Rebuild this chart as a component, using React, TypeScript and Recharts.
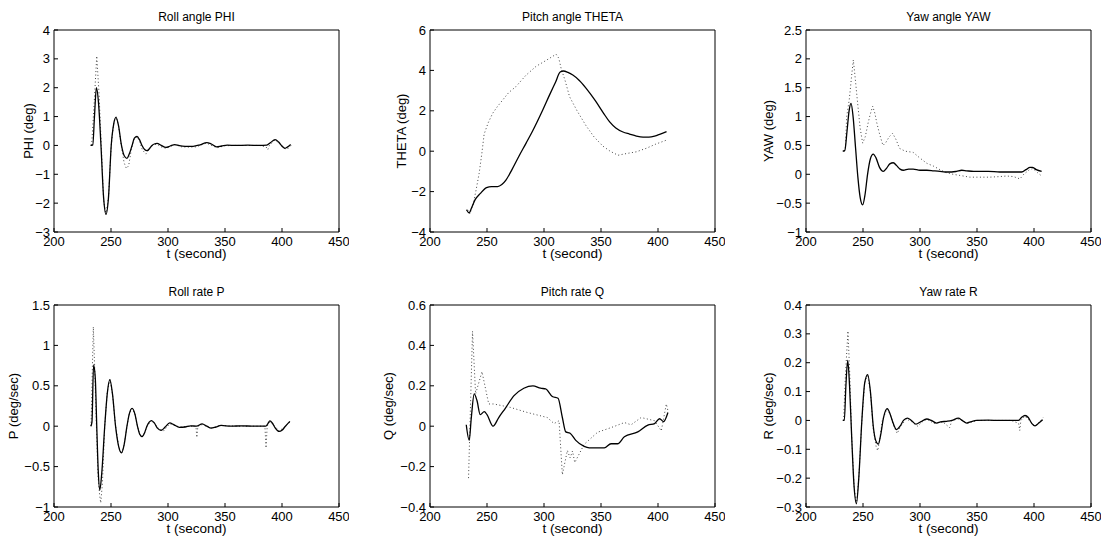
import { LineChart, Line, XAxis, YAxis } from 'recharts';

type Pt = [number, number];

const X_TICKS = [200, 250, 300, 350, 400, 450];

const PHI_TICKS = [-3, -2, -1, 0, 1, 2, 3, 4];
const THETA_TICKS = [-4, -2, 0, 2, 4, 6];
const YAW_TICKS = [-1, -0.5, 0, 0.5, 1, 1.5, 2, 2.5];
const P_TICKS = [-1, -0.5, 0, 0.5, 1, 1.5];
const Q_TICKS = [-0.4, -0.2, 0, 0.2, 0.4, 0.6];
const R_TICKS = [-0.3, -0.2, -0.1, 0, 0.1, 0.2, 0.3, 0.4];

const PHI_SOLID: Pt[] = [
  [232, 0], [234, 0.02], [235.5, 1.0], [237.2, 2.0], [239, 1.5], [241.2, 0], [243.5, -1.8], [245.6, -2.38],
  [247.8, -1.8], [250.2, 0], [252.4, 0.75], [254.4, 0.97], [256.5, 0.7], [259.2, 0], [261.5, -0.35], [264, -0.45],
  [266, -0.3], [268.5, 0], [270.5, 0.25], [272.8, 0.31], [275, 0.2], [277.2, 0], [279.5, -0.14], [281.6, -0.18],
  [284, -0.1], [286, 0], [288, 0.05], [290.4, 0.07], [294, 0], [298.2, -0.07], [302, -0.02], [305.9, 0.03],
  [310, -0.01], [315, -0.03], [322, -0.03], [328, 0.02], [334, 0.1], [338, 0.05], [342.6, -0.05], [347, -0.02],
  [352, 0.01], [360, 0], [370, 0.01], [380, 0], [386.6, 0.01], [390, 0.1], [393.9, 0.2], [397, 0.12],
  [400, -0.02], [402.6, -0.1], [405, -0.05], [407.6, 0.03],
];
const PHI_DOT: Pt[] = [
  [233, 0], [235, 1.3], [237.5, 3.1], [239.5, 1.8], [241.5, 0], [243.5, -1.9], [245.6, -2.4], [247.8, -1.8],
  [250.2, 0], [252.5, 0.8], [254.5, 1.0], [256.5, 0.7], [259, 0], [261.5, -0.6], [263.5, -0.8], [265.5, -0.7],
  [268, -0.1], [270.5, 0.25], [272.8, 0.3], [275, 0.15], [277.5, -0.15], [280.5, -0.3], [283, -0.15], [286, 0],
  [290, 0.05], [294, -0.05], [298, -0.1], [301, -0.05], [306, 0.03], [312, -0.05], [318, -0.06], [325, -0.05],
  [329, 0.02], [334, 0.08], [338, 0], [343, -0.08], [350, -0.01], [360, 0], [370, 0], [380, 0], [386, -0.05],
  [387.5, -0.15], [389, 0], [393.5, 0.18], [397, 0.1], [400, -0.05], [403, -0.12], [405.5, -0.1], [408, 0],
];

const THETA_SOLID: Pt[] = [
  [232, -2.9], [234.3, -3.05], [236.5, -2.8], [239.6, -2.4], [244, -2.1], [249.6, -1.8], [254, -1.75],
  [259.3, -1.75], [263, -1.65], [266.6, -1.43], [272, -0.9], [278, -0.25], [284.2, 0.39], [290, 1.0],
  [298.9, 2.04], [305, 2.8], [310, 3.4], [314.2, 3.92], [317, 3.97], [321, 3.9], [325.3, 3.77], [331, 3.5],
  [337, 3.11], [345, 2.5], [352, 1.9], [357.6, 1.45], [363, 1.15], [369.3, 0.95], [375, 0.85], [381, 0.75],
  [386.9, 0.7], [392, 0.7], [397, 0.75], [402, 0.85], [407.5, 0.97],
];
const THETA_DOT: Pt[] = [
  [233, -2.9], [235, -3.1], [238, -2.6], [240.5, -1.9], [243.1, -1.1], [245.5, -0.1], [247.5, 0.85], [251, 1.4],
  [254.9, 1.87], [259, 2.2], [263.7, 2.53], [269, 2.9], [275.4, 3.2], [284, 3.75], [293, 4.2], [302, 4.5],
  [310.6, 4.8], [313, 4.6], [315, 4.1], [318.5, 3.5], [322.4, 2.7], [329, 2.0], [337, 1.25], [344, 0.7],
  [351.7, 0.25], [358, 0], [364.9, -0.2], [372, -0.12], [381, -0.03], [390, 0.15], [398, 0.35], [407.5, 0.55],
];

const YAW_SOLID: Pt[] = [
  [232.2, 0.4], [234, 0.41], [236, 0.75], [237.8, 1.1], [239.5, 1.23], [241.3, 1.0], [243.5, 0.45], [245.5, -0.05],
  [247.5, -0.4], [249.7, -0.53], [251.8, -0.35], [254, 0], [256.5, 0.27], [259, 0.35], [261.5, 0.28],
  [264.5, 0.12], [267.8, 0.05], [270.5, 0.1], [273.5, 0.18], [276.6, 0.2], [279.5, 0.15], [282.5, 0.09],
  [285.4, 0.07], [290, 0.09], [294, 0.09], [300, 0.07], [306, 0.07], [312, 0.06], [317.5, 0.05], [322, 0.04],
  [327.8, 0.04], [332, 0.05], [336.6, 0.07], [341, 0.06], [347, 0.05], [360, 0.05], [370, 0.04], [380, 0.04],
  [389.2, 0.04], [393, 0.08], [396.5, 0.12], [398.5, 0.12], [402, 0.08], [406.7, 0.05],
];
const YAW_DOT: Pt[] = [
  [233, 0.4], [234.5, 0.45], [235.7, 1.0], [238, 1.3], [240, 1.7], [241.5, 1.98], [243, 1.7], [245, 1.29],
  [247.5, 0.8], [249.7, 0.54], [252, 0.65], [254.6, 0.9], [256.5, 1.05], [258.5, 1.18], [260.5, 1.05],
  [262, 0.9], [264.5, 0.7], [267.5, 0.5], [270, 0.55], [273, 0.65], [276, 0.71], [279, 0.6], [282, 0.45],
  [287, 0.4], [294, 0.38], [300, 0.28], [306, 0.19], [312, 0.14], [317.5, 0.08], [323, 0.03], [329, 0],
  [335, -0.02], [343.6, -0.05], [352, -0.05], [361, -0.05], [370, -0.04], [376, -0.03], [382, -0.04],
  [387.7, -0.08], [391, 0], [396, 0.08], [399, 0.1], [403, 0.03], [406.7, -0.03],
];

const P_SOLID: Pt[] = [
  [232.3, 0], [233.3, 0.05], [234.7, 0.76], [236.2, 0.6], [237.5, 0], [238.8, -0.55], [240.2, -0.79],
  [241.8, -0.6], [244.5, 0], [246.7, 0.4], [249, 0.575], [251.3, 0.4], [254, 0], [256.7, -0.25], [259.2, -0.33],
  [261.5, -0.23], [264, 0], [266, 0.15], [268.5, 0.22], [271, 0.15], [273.2, 0], [275.2, -0.1], [277.3, -0.13],
  [279.5, -0.08], [281.5, 0], [283.5, 0.05], [285.5, 0.07], [288, 0.04], [290.5, -0.02], [294.2, -0.05],
  [297.5, -0.01], [301.5, 0.04], [305, 0.02], [310, -0.015], [315, -0.01], [320, 0.005], [325, 0], [330, 0.03],
  [334, 0], [337.9, -0.025], [342, -0.01], [346.6, 0.01], [355, 0], [365, 0.005], [375, 0], [385.9, 0],
  [387.5, 0.03], [389.4, 0.065], [391.5, 0.04], [394, -0.02], [397.6, -0.065], [400, -0.05], [403, 0],
  [406.9, 0.06],
];
const P_DOT: Pt[] = [
  [232.5, 0], [233.3, 0.5], [234.5, 1.23], [235.5, 0.8], [237, 0.1], [238.5, -0.6], [240, -0.85], [241, -0.95],
  [242.5, -0.7], [244.5, 0], [246.7, 0.42], [249, 0.58], [251.3, 0.4], [254, 0], [256.7, -0.25], [259.2, -0.34],
  [261.5, -0.23], [264, 0], [266, 0.15], [268.5, 0.22], [271, 0.15], [273.2, 0], [275.2, -0.1], [277.3, -0.13],
  [279.5, -0.08], [281.5, 0], [285.5, 0.07], [290, 0], [294, -0.06], [296, -0.06], [301.5, 0.03], [310, -0.01],
  [320, 0], [324.5, 0], [325.3, -0.14], [326.2, 0], [330, 0.02], [338, -0.02], [346, 0.01], [360, 0], [375, 0],
  [385, 0], [386, -0.27], [387, 0], [389.4, 0.06], [397.6, -0.06], [403, 0], [407, 0.05],
];

const Q_SOLID: Pt[] = [
  [231.8, 0.007], [234.4, -0.07], [236.2, 0.04], [238.8, 0.16], [241.2, 0.127], [244.1, 0.057], [247.6, 0.072],
  [250, 0.057], [255.3, 0], [260.3, 0.043], [266.2, 0.09], [273.5, 0.15], [282.3, 0.188], [290.3, 0.2],
  [297, 0.188], [301.4, 0.185], [307.3, 0.147], [312.3, 0.138], [316.1, 0.043], [319.1, -0.028],
  [322.9, -0.035], [327.9, -0.07], [335.2, -0.1], [339.7, -0.107], [352.9, -0.107], [358.8, -0.087],
  [364.6, -0.087], [370.5, -0.052], [382.3, -0.028], [391.1, 0.005], [397, 0.013], [401.4, 0.037],
  [404.9, 0.023], [408.7, 0.068],
];
const Q_DOT: Pt[] = [
  [233.8, -0.257], [237.3, 0.47], [240, 0.16], [245.6, 0.27], [251.5, 0.11], [255.9, 0.11], [270.6, 0.093],
  [285.3, 0.068], [302.9, 0.043], [308.8, 0.013], [313.2, 0.027], [316.1, -0.24], [320.5, -0.12],
  [322.9, -0.157], [325, -0.123], [327, -0.18], [335.2, -0.09], [347, -0.03], [358.8, -0.007], [370.5, 0.018],
  [376.4, 0.007], [385.2, 0.043], [397, 0.027], [402.9, -0.023], [407.3, 0.11], [408.7, 0.077],
];

const R_SOLID: Pt[] = [
  [232.2, 0], [233.6, 0], [235, 0.12], [236.6, 0.208], [238.2, 0.12], [240, -0.05], [242.2, -0.23],
  [244.2, -0.288], [246.3, -0.2], [249, 0], [251.5, 0.13], [254.1, 0.159], [256.5, 0.1], [259, -0.02],
  [261.2, -0.07], [263.5, -0.082], [265.5, -0.05], [268, 0.01], [271.3, 0.041], [274, 0.02], [276.5, -0.01],
  [279.5, -0.032], [282.5, -0.02], [285.5, 0], [288.9, 0.008], [292.5, 0], [296.5, -0.013], [300.5, -0.005],
  [305.9, 0.005], [310, 0], [314.6, -0.009], [318, -0.005], [323.4, -0.003], [328, 0], [333.6, 0.008],
  [337, 0], [341, -0.009], [345, -0.004], [349.7, 0], [360, 0.001], [370, 0], [380, 0], [386.3, 0],
  [389, 0.01], [392.1, 0.017], [395, 0.01], [398, -0.01], [400.9, -0.019], [404, -0.01], [407.6, 0.002],
];
const R_DOT: Pt[] = [
  [233, 0], [234.5, 0.15], [236.8, 0.31], [238.5, 0.15], [240, -0.05], [242.2, -0.23], [244.2, -0.29],
  [246.3, -0.2], [249, 0], [251.5, 0.13], [254, 0.16], [256.5, 0.1], [259, -0.03], [261.5, -0.09],
  [262.9, -0.105], [264.5, -0.07], [267, 0], [271, 0.04], [274, 0.02], [277, -0.02], [280, -0.045],
  [283, -0.02], [288, 0.005], [293, -0.005], [298, -0.02], [302, -0.005], [306, 0.005], [312, -0.01],
  [320, -0.005], [326, -0.025], [328, 0], [334, 0.005], [342, -0.01], [350, 0], [365, 0], [380, 0],
  [386.5, -0.01], [387.5, -0.035], [388.5, 0], [392, 0.015], [401, -0.02], [406, 0], [408, 0.01],
];

const FONT = '"Liberation Sans", Arial, Helvetica, sans-serif';
const PLOT_W = 285;
const PLOT_H = 202;
const ML = 60;
const MT = 30;
const MR = 10;
const MB = 35;

const fmt = (v: number) => (v < 0 ? '\u2212' + String(Math.abs(v)) : String(v));
const toRows = (pts: Pt[]) => pts.map(([t, v]) => ({ t, v }));

interface PanelProps {
  left: number;
  top: number;
  title: string;
  yLabel: string;
  yLabelX: number;
  yTicks: number[];
  solid: Pt[];
  dotted: Pt[];
}

function Panel({ left, top, title, yLabel, yLabelX, yTicks, solid, dotted }: PanelProps) {
  const domain: [number, number] = [yTicks[0], yTicks[yTicks.length - 1]];
  const tickStyle = { fill: '#000', fontSize: 13, fontFamily: FONT };
  const text = { position: 'absolute' as const, fontFamily: FONT, color: '#000', whiteSpace: 'nowrap' as const, lineHeight: 1 };

  return (
    <>
      <div style={{ ...text, left, top: top - 13, width: PLOT_W, textAlign: 'center', fontSize: 12, transform: 'translateY(-50%)' }}>
        {title}
      </div>
      <div style={{ ...text, left, top: top + PLOT_H + 22, width: PLOT_W, textAlign: 'center', fontSize: 13.5, transform: 'translateY(-50%)' }}>
        t (second)
      </div>
      <div style={{ ...text, left: left + yLabelX, top: top + PLOT_H / 2, fontSize: 13, transform: 'translate(-50%, -50%) rotate(-90deg)' }}>
        {yLabel}
      </div>
      <div style={{ position: 'absolute', left: left - ML, top: top - MT }}>
        <LineChart
          width={ML + PLOT_W + MR}
          height={MT + PLOT_H + MB}
          margin={{ top: MT, right: MR, left: 0, bottom: 0 }}
        >
          <XAxis
            type="number"
            dataKey="t"
            domain={[200, 450]}
            ticks={X_TICKS}
            interval={0}
            height={MB}
            tickSize={-4}
            tickMargin={9}
            tick={tickStyle}
            stroke="#000"
          />
          <XAxis
            xAxisId="top"
            orientation="top"
            type="number"
            dataKey="t"
            domain={[200, 450]}
            ticks={X_TICKS}
            interval={0}
            mirror
            tickSize={4}
            tick={false}
            stroke="#000"
          />
          <YAxis
            type="number"
            domain={domain}
            ticks={yTicks}
            interval={0}
            width={ML}
            tickSize={-4}
            tickMargin={8}
            tick={tickStyle}
            tickFormatter={fmt}
            stroke="#000"
          />
          <YAxis
            yAxisId="right"
            orientation="right"
            type="number"
            domain={domain}
            ticks={yTicks}
            interval={0}
            mirror
            tickSize={4}
            tick={false}
            stroke="#000"
          />
          <Line
            data={toRows(dotted)}
            dataKey="v"
            type="linear"
            stroke="#444"
            strokeWidth={1}
            strokeDasharray="1 2.5"
            dot={false}
            activeDot={false}
            isAnimationActive={false}
          />
          <Line
            data={toRows(solid)}
            dataKey="v"
            type="monotone"
            stroke="#000"
            strokeWidth={1.3}
            dot={false}
            activeDot={false}
            isAnimationActive={false}
          />
        </LineChart>
      </div>
    </>
  );
}

export default function App() {
  return (
    <div style={{ position: 'absolute', left: 0, top: 0, width: 1109, height: 544, background: '#fff', overflow: 'hidden' }}>
      <Panel left={54} top={30} title="Roll angle PHI" yLabel="PHI (deg)" yLabelX={-26} yTicks={PHI_TICKS} solid={PHI_SOLID} dotted={PHI_DOT} />
      <Panel left={430} top={30} title="Pitch angle THETA" yLabel="THETA (deg)" yLabelX={-29} yTicks={THETA_TICKS} solid={THETA_SOLID} dotted={THETA_DOT} />
      <Panel left={806} top={30} title="Yaw angle YAW" yLabel="YAW (deg)" yLabelX={-38} yTicks={YAW_TICKS} solid={YAW_SOLID} dotted={YAW_DOT} />
      <Panel left={54} top={305} title="Roll rate P" yLabel="P (deg/sec)" yLabelX={-41} yTicks={P_TICKS} solid={P_SOLID} dotted={P_DOT} />
      <Panel left={430} top={305} title="Pitch rate Q" yLabel="Q (deg/sec)" yLabelX={-42} yTicks={Q_TICKS} solid={Q_SOLID} dotted={Q_DOT} />
      <Panel left={806} top={305} title="Yaw rate R" yLabel="R (deg/sec)" yLabelX={-38} yTicks={R_TICKS} solid={R_SOLID} dotted={R_DOT} />
    </div>
  );
}
